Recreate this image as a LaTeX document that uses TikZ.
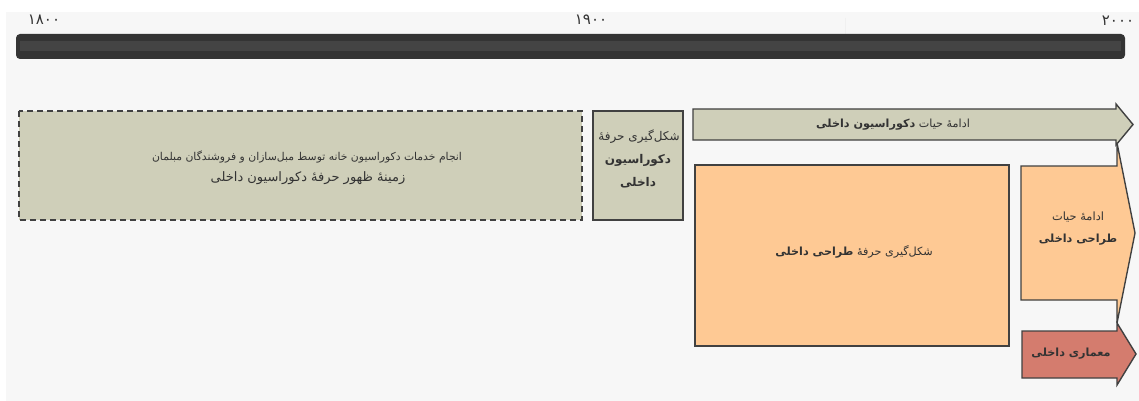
\documentclass[tikz,border=0pt]{standalone}
\usepackage{fontspec}
\newfontfamily\fa[Script=Arabic]{DejaVu Sans}
\TeXXeTstate=1
\newcommand{\RLtext}[1]{\beginR #1\endR}
\definecolor{bgray}{HTML}{F7F7F7}
\definecolor{barc}{HTML}{343434}
\definecolor{barstripe}{HTML}{444444}
\definecolor{sage}{HTML}{CFCFB9}
\definecolor{peach}{HTML}{FEC994}
\definecolor{brick}{HTML}{D47C6E}
\definecolor{edge}{HTML}{414141}
\definecolor{txt}{HTML}{333333}
\begin{document}
\begin{tikzpicture}[x=1pt,y=-1pt,
  shapeline/.style={draw=edge,line width=1.4pt},
  lbl/.style={font=\fa,text=txt,align=center,inner sep=0pt},
  yearlbl/.style={font=\fa\fontsize{15}{15}\selectfont,text=txt,inner sep=0pt}]
\useasboundingbox (0,0) rectangle (1139,401);
\fill[white] (0,0) rectangle (1139,401);
\fill[bgray] (6,12) rectangle (1139,401);
% timeline
\draw[line width=1pt,draw=black!6] (845,18) -- (845,34);
\fill[barc,rounded corners=4pt] (16,34) rectangle (1125,59);
\fill[barstripe] (20,41) rectangle (1121,51);
\node[yearlbl] (y1800) at (44,20) {۱۸۰۰};
\node[yearlbl] (y1900) at (591,20) {۱۹۰۰};
\node[yearlbl] (y2000) at (1118,21) {۲۰۰۰};
% boxes
\draw[shapeline,fill=sage,dash pattern=on 6pt off 4pt] (19,111) rectangle (582,220);
\draw[shapeline,fill=sage] (593,111) rectangle (683,220);
\draw[shapeline,fill=peach] (695,165) rectangle (1009,346);
% arrows
\draw[shapeline,fill=sage,line join=miter] (693,109) -- (1116,109) -- (1116,104) -- (1133,124.5) -- (1116,145) -- (1116,140) -- (693,140) -- cycle;
\draw[shapeline,fill=peach,line join=miter] (1021,166) -- (1117,166) -- (1117,143) -- (1135,233) -- (1117,323) -- (1117,300) -- (1021,300) -- cycle;
\draw[shapeline,fill=brick,line join=miter] (1022,331) -- (1117,331) -- (1117,323) -- (1136,354) -- (1117,385) -- (1117,378) -- (1022,378) -- cycle;
% texts
\node[lbl,font=\fa\fontsize{10.8}{12}\selectfont] (t1a) at (307,157) {\RLtext{انجام خدمات دکوراسیون خانه توسط مبل‌سازان و فروشندگان مبلمان}};
\node[lbl,font=\fa\fontsize{13}{14}\selectfont] (t1b) at (308,178) {\RLtext{زمینهٔ ظهور حرفهٔ دکوراسیون داخلی}};
\node[lbl,font=\fa\fontsize{12}{12}\selectfont] (t2a) at (639,137) {\RLtext{شکل‌گیری حرفهٔ}};
\node[lbl,font=\fa\bfseries\fontsize{12}{23}\selectfont] (t2b) at (638,171.5) {\RLtext{دکوراسیون}\\\RLtext{داخلی}};
\node[lbl,font=\fa\fontsize{11.2}{14}\selectfont] (t3) at (893,125) {\RLtext{ادامهٔ حیات {\bfseries دکوراسیون داخلی}}};
\node[lbl,font=\fa\fontsize{11.2}{14}\selectfont] (t4) at (854,252) {\RLtext{شکل‌گیری حرفهٔ {\bfseries طراحی داخلی}}};
\node[lbl,font=\fa\fontsize{11.4}{14}\selectfont] (t5a) at (1078,217) {\RLtext{ادامهٔ حیات}};
\node[lbl,font=\fa\bfseries\fontsize{11.2}{14}\selectfont] (t5b) at (1078,240) {\RLtext{طراحی داخلی}};
\node[lbl,font=\fa\bfseries\fontsize{11.2}{14}\selectfont] (t6) at (1071,354) {\RLtext{معماری داخلی}};
\end{tikzpicture}
\end{document}
